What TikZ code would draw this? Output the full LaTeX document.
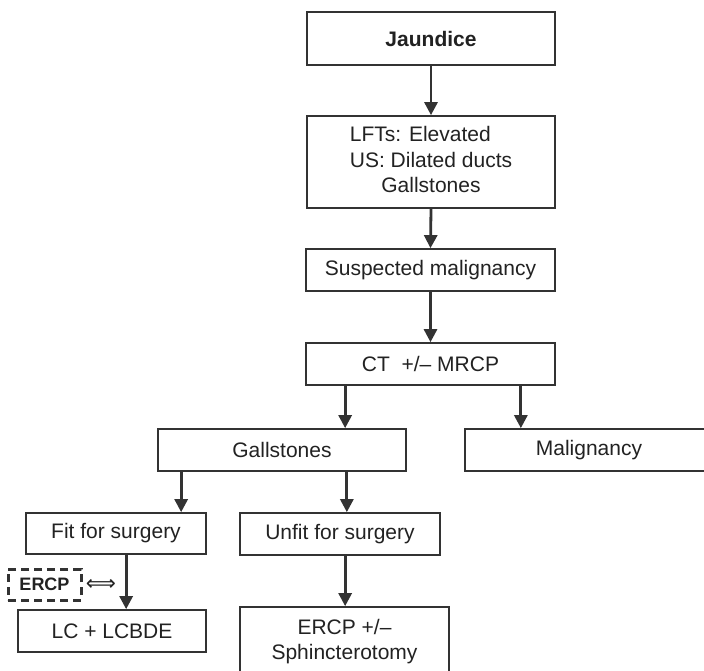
\documentclass[tikz,border=0pt]{standalone}
\usepackage{fontspec}
\setmainfont{Liberation Sans}
\newfontfamily\symfont{DejaVu Sans}
\usetikzlibrary{arrows.meta,calc}
\definecolor{ink}{HTML}{222222}
\definecolor{edge}{HTML}{333333}
\begin{document}
\begin{tikzpicture}[x=1pt,y=-1pt,
  box/.style={draw=edge,line width=1.7pt,fill=white,text=ink,inner sep=0pt,align=center,
    font=\fontsize{21}{25.5}\selectfont},
  arr/.style={draw=edge,line width=2.8pt,-{Triangle[length=13pt,width=13pt]}},
  dbox/.style={draw=edge,line width=3pt,dash pattern=on 8pt off 5pt,text=ink,inner sep=0pt,
    font=\fontsize{18}{20}\selectfont\bfseries}]
\useasboundingbox (0,0) rectangle (704,670);
\clip (0,0) rectangle (704,670);
\fill[white] (0,0) rectangle (704,670);
\node[box,minimum width=248pt,minimum height=53pt] (jaundice) at (431,38.5) {\bfseries Jaundice};
\node[box,minimum width=248pt,minimum height=92pt] (lft) at (431,162)
  {\begin{tabular}{@{}l@{}}LFTs: Elevated\\US: Dilated ducts\\\multicolumn{1}{@{}c@{}}{Gallstones}\end{tabular}};
\node[box,minimum width=249pt,minimum height=42pt] (susp) at (430.5,270) {Suspected malignancy};
\node[box,minimum width=249pt,minimum height=42pt] (ct) at (430.5,364) {CT\ \ +/– MRCP};
\node[box,minimum width=248pt,minimum height=42pt] (gall) at (282,450) {Gallstones};
\node[box,minimum width=248pt,minimum height=42pt] (malig) at (589,450) {Malignancy};
\node[box,minimum width=180pt,minimum height=41pt] (fit) at (116,533.5) {Fit for surgery};
\node[box,minimum width=200pt,minimum height=42pt] (unfit) at (340,534) {Unfit for surgery};
\node[box,minimum width=188pt,minimum height=42pt] (lc) at (112,631) {LC + LCBDE};
\node[box,minimum width=209pt,minimum height=69pt] (ercp) at (344.5,641.5) {ERCP +/–\\Sphincterotomy};
\node[dbox,minimum width=73pt,minimum height=31pt] (ercpd) at (44.5,584.5) {ERCP};
\node[text=ink,inner sep=0pt,font=\symfont\fontsize{21}{21}\selectfont] (dbl) at (101,585) {⟺};
\draw[arr] (jaundice.south) -- (lft.north);
\draw[arr] (lft.south) -- (susp.north);
\draw[arr] (susp.south) -- (ct.north);
\draw[arr] ([xshift=40pt]ct.south west) -- ([xshift=40pt]ct.south west |- gall.north);
\draw[arr] ([xshift=-35pt]ct.south east) -- ([xshift=-35pt]ct.south east |- malig.north);
\draw[arr] ([xshift=24pt]gall.south west) -- ([xshift=24pt]gall.south west |- fit.north);
\draw[arr] ([xshift=-60pt]gall.south east) -- ([xshift=-60pt]gall.south east |- unfit.north);
\draw[arr] ([xshift=101pt]fit.south west) -- ([xshift=101pt]fit.south west |- lc.north);
\draw[arr] ([xshift=106pt]unfit.south west) -- ([xshift=106pt]unfit.south west |- ercp.north);
\end{tikzpicture}
\end{document}
